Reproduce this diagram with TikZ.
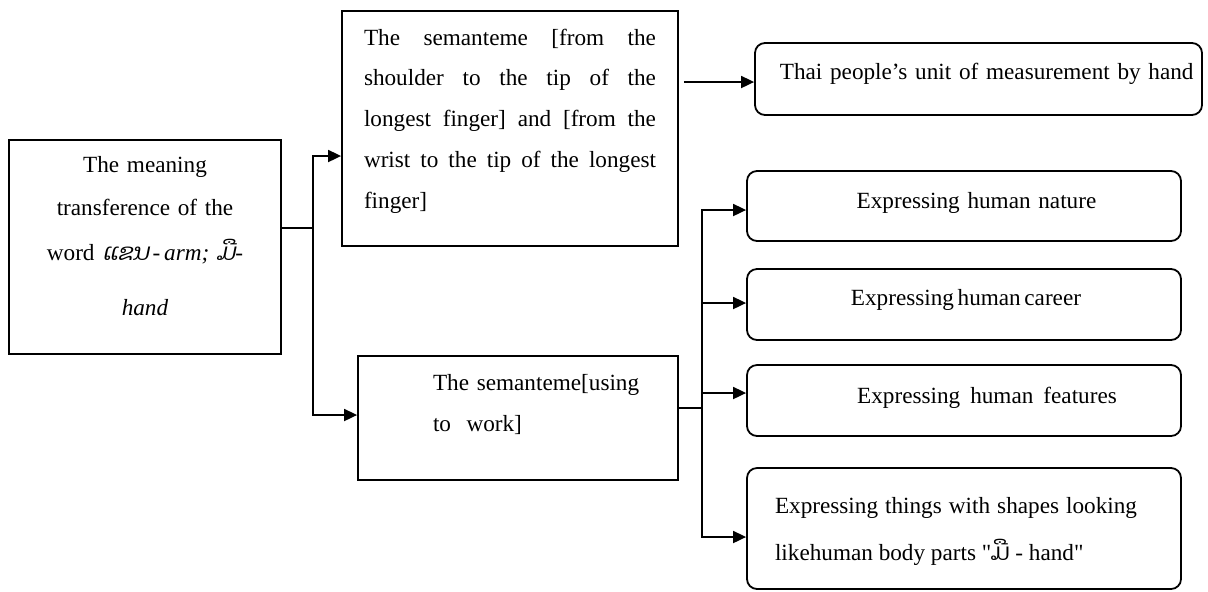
\documentclass[tikz,border=0pt]{standalone}
\usepackage{amsmath}
\usepackage{fontspec}
\setmainfont{Liberation Serif}
\newfontfamily\laofont[Script=Lao]{Dhyana}
\newfontfamily\laoit[Script=Lao,FakeSlant=0.2]{Dhyana}
\usepackage{tikz}
\usetikzlibrary{arrows.meta}

\begin{document}
\begin{tikzpicture}[x=0.5pt,y=-0.5pt,
	box/.style={draw,line width=0.9pt,inner sep=0pt,font=\fontsize{11.6}{20.4}\selectfont},
	rbox/.style={box,rounded corners=5pt,minimum width=217pt},
	arr/.style={-{Triangle[length=6.5pt,width=6pt]},line width=0.9pt}]
					\useasboundingbox (0,0) rectangle (1208,591);
					\node[box,minimum width=136pt,minimum height=107pt,text width=110pt,align=center] (main) at (145,247) {The meaning\\[1pt]transference of the\\[2pt]word {\laoit ແຂນ}\,-\,\textit{arm;} {\laoit ມື}-\\[7pt]\textit{hand}\par\kern11pt};
					\node[box,minimum width=168pt,minimum height=117.5pt,text width=146pt,align=justify] (top) at (510,128.5) {The semanteme [from the\linebreak shoulder to the tip of the\linebreak longest finger] and [from the\linebreak wrist to the tip of the longest\linebreak finger]\par\kern7.5pt};
					\node[rbox,minimum width=223.5pt,minimum height=36pt,text width=215pt,align=right] (thai) at (978.5,79) {Thai people's unit of measurement by hand\par\kern5pt};
					\node[box,minimum width=160pt,minimum height=62pt,text width=150pt,align=left] (mid) at (518,418) {\leftskip=32.5pt The semanteme[using\\to~ work]\par\kern13.5pt};
					\node[rbox,minimum height=35pt,text width=200pt,align=center] (nat) at (964,206) {\hspace*{12.5pt}Expressing human nature\par\kern3pt};
					\node[rbox,minimum height=35.5pt,text width=200pt,align=center] (car) at (964,304.5) {\hspace*{2pt}Expressing\hspace{1.8pt}human\hspace{1.8pt}career\par\kern5pt};
					\node[rbox,minimum height=35.5pt,text width=200pt,align=center] (fea) at (964,400.5) {\hspace*{23pt}Expressing\hspace{5pt}human\hspace{5pt}features\par\kern3pt};
					\node[rbox,minimum height=60.5pt,text width=181pt,align=justify,font=\fontsize{11.6}{23.5}\selectfont] (thg) at (964,528.5) {\leftskip=-4pt\rightskip=4pt\rule{0pt}{11pt}Expressing things with shapes looking\linebreak likehuman body parts \textquotedbl{\laofont ມື} - hand\textquotedbl\par};
					\coordinate (jA) at (313,228);
					\coordinate (jB) at (702,408);
					\draw[line width=0.9pt] (main.east |- jA) -- (jA);
					\draw[arr] (jA) |- (top.west |- 0,156);
					\draw[arr] (jA) |- (mid.west |- 0,415);
					\draw[arr,shorten <=2.5pt] (top.east |- 0,82) -- (thai.west |- 0,82);
					\draw[line width=0.9pt] (mid.east |- jB) -- (jB);
					\foreach \b/\y in {nat/210,car/303,fea/393,thg/537}\draw[arr] (jB) |- (\b.west |- 0,\y);
				\end{tikzpicture}
\end{document}
